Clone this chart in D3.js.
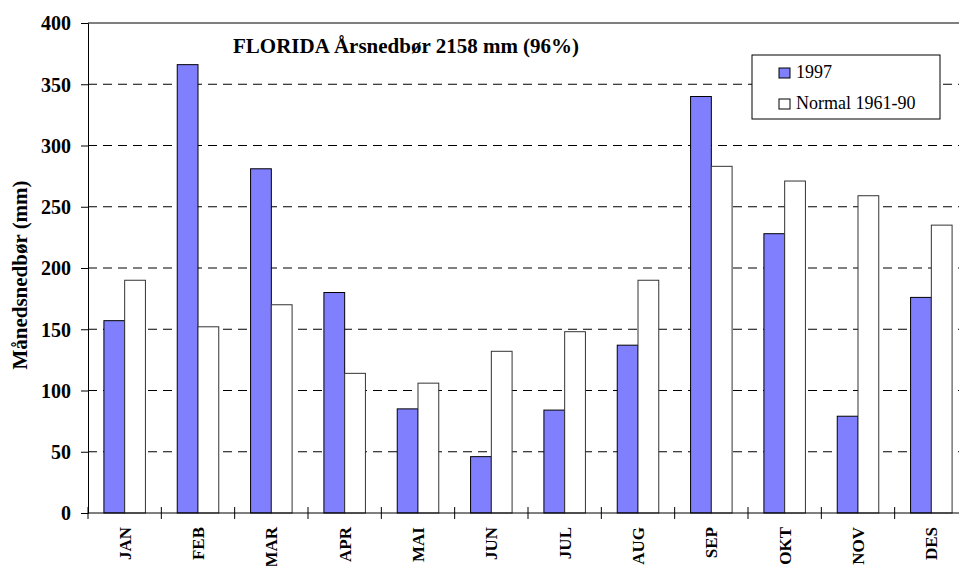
<!DOCTYPE html>
<html>
<head>
  <meta charset="utf-8">
  <script src="https://d3js.org/d3.v7.min.js"></script>
  <style>
    html, body {
        margin: 0px;
        padding: 0px;
        background: #fff;
    }
    svg {
        display: block;
        font-family: "Liberation Serif", "Times New Roman", serif;
    }
  </style>
  <title>Florida nedbør 1997</title>
</head>
<body>
<div id="chart"></div>
<script>
    // data (mm)
    var months = ["JAN", "FEB", "MAR", "APR", "MAI", "JUN", "JUL", "AUG", "SEP", "OKT", "NOV", "DES"];
    var rain1997 = [157, 366, 281, 180, 85, 46, 84, 137, 340, 228, 79, 176];
    var normal = [190, 152, 170, 114, 106, 132, 148, 190, 283, 271, 259, 235];
    var yTicks = [0, 50, 100, 150, 200, 250, 300, 350, 400];
    var seriesNames = ["1997", "Normal 1961-90"];

    var width = 959, height = 566;
    // plot area runs a little past the right edge of the picture, like the original
    var plotLeft = 88, plotTop = 23, plotBottom = 513, plotW = 880;

    var svg = d3.select("#chart").append("svg")
        .attr("width", width)
        .attr("height", height);

    var x = d3.scaleBand().domain(months).range([plotLeft, plotLeft + plotW]);
    var y = d3.scaleLinear().domain([0, 400]).range([plotBottom, plotTop]);

    var bw = x.bandwidth();
    var barW = bw * 0.283;
    var offset = (bw - 2 * barW) / 2;

    // dashed grid
    svg.append("g").selectAll("line")
        .data(yTicks.filter(function(d) { return d > 0 && d < 400; }))
        .enter().append("line")
        .attr("x1", plotLeft).attr("x2", plotLeft + plotW)
        .attr("y1", function(d) { return y(d); })
        .attr("y2", function(d) { return y(d); })
        .style("stroke", "#000")
        .style("stroke-width", 1)
        .style("stroke-dasharray", "9,6");

    // bars
    svg.append("g").selectAll("rect")
        .data(months)
        .enter().append("rect")
        .attr("x", function(d) { return x(d) + offset; })
        .attr("y", function(d, i) { return y(rain1997[i]); })
        .attr("width", barW)
        .attr("height", function(d, i) { return plotBottom - y(rain1997[i]); })
        .style("fill", "#8080ff")
        .style("stroke", "#000")
        .style("stroke-width", 1);

    svg.append("g").selectAll("rect")
        .data(months)
        .enter().append("rect")
        .attr("x", function(d) { return x(d) + offset + barW; })
        .attr("y", function(d, i) { return y(normal[i]); })
        .attr("width", barW)
        .attr("height", function(d, i) { return plotBottom - y(normal[i]); })
        .style("fill", "#fff")
        .style("stroke", "#333")
        .style("stroke-width", 1);

    // frame: top line, left axis, bottom axis
    svg.append("line")
        .attr("x1", plotLeft).attr("x2", plotLeft + plotW)
        .attr("y1", plotTop).attr("y2", plotTop)
        .style("stroke", "#000");

    var yAxis = svg.append("g")
        .attr("transform", "translate(" + plotLeft + ",0)")
        .call(d3.axisLeft(y).tickValues(yTicks).tickSize(7).tickPadding(10));
    yAxis.selectAll("path, line").style("stroke", "#000");
    yAxis.selectAll("text")
        .style("font-family", "Liberation Serif")
        .style("font-weight", "bold")
        .style("font-size", "20px")
        .style("fill", "#000")
        .attr("dy", "0.34em");

    // x ticks sit between months and cross the axis
    var xAxis = svg.append("g");
    xAxis.append("line")
        .attr("x1", plotLeft).attr("x2", plotLeft + plotW)
        .attr("y1", plotBottom).attr("y2", plotBottom)
        .style("stroke", "#000");
    xAxis.selectAll(".tk")
        .data(months)
        .enter().append("line")
        .attr("class", "tk")
        .attr("x1", function(d) { return x(d); })
        .attr("x2", function(d) { return x(d); })
        .attr("y1", plotBottom - 6).attr("y2", plotBottom + 6)
        .style("stroke", "#000");
    xAxis.selectAll("text")
        .data(months)
        .enter().append("text")
        .attr("transform", function(d) {
            return "translate(" + (x(d) + bw / 2 + 6) + "," + (plotBottom + 14) + ") rotate(-90)";
        })
        .attr("text-anchor", "end")
        .style("font-weight", "bold")
        .style("font-size", "17px")
        .text(function(d) { return d; });

    // title and y label
    svg.append("text")
        .attr("x", 233).attr("y", 53)
        .style("font-weight", "bold")
        .style("font-size", "21px")
        .text("FLORIDA Årsnedbør 2158 mm (96%)");

    svg.append("text")
        .attr("transform", "translate(27," + ((plotTop + plotBottom) / 2 + 7) + ") rotate(-90)")
        .attr("text-anchor", "middle")
        .style("font-weight", "bold")
        .style("font-size", "21px")
        .text("Månedsnedbør (mm)");

    // legend
    var legend = svg.append("g").attr("transform", "translate(752,55)");
    legend.append("rect")
        .attr("width", 188).attr("height", 64)
        .style("fill", "#fff")
        .style("stroke", "#000");
    var items = legend.selectAll(".item")
        .data(seriesNames)
        .enter().append("g")
        .attr("class", "item")
        .attr("transform", function(d, i) { return "translate(27," + (13 + i * 31) + ")"; });
    items.append("rect")
        .attr("width", 11).attr("height", 10)
        .style("fill", function(d, i) { return i == 0 ? "#8080ff" : "#fff"; })
        .style("stroke", "#000");
    items.append("text")
        .attr("x", 17).attr("y", 10)
        .style("font-size", "18px")
        .text(function(d) { return d; });
</script>
</body>
</html>
